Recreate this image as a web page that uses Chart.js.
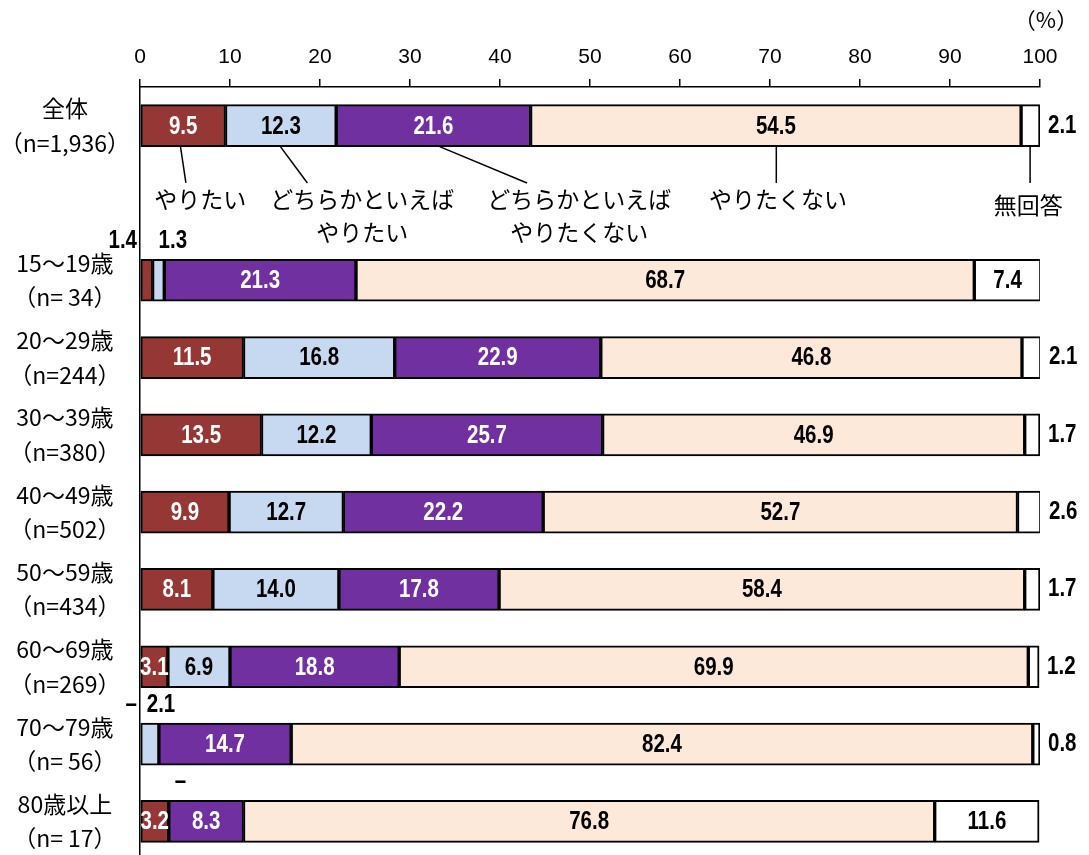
<!DOCTYPE html>
<html>
<head>
<meta charset="utf-8">
<script src="https://cdn.jsdelivr.net/npm/chart.js@4/dist/chart.umd.min.js"></script>
<style>
  html, body { margin: 0; padding: 0; background: #fff; overflow: hidden; }
</style>
</head>
<body>
<canvas id="chart" width="1089" height="860"></canvas>
<script>
// rows (the empty one is the gap used for the callout labels)
const categories = [
  ['全体', '（n=1,936）'],
  '',
  ['15～19歳', '（n= 34）'],
  ['20～29歳', '（n=244）'],
  ['30～39歳', '（n=380）'],
  ['40～49歳', '（n=502）'],
  ['50～59歳', '（n=434）'],
  ['60～69歳', '（n=269）'],
  ['70～79歳', '（n= 56）'],
  ['80歳以上', '（n= 17）']
];
const seriesNames = ['やりたい', 'どちらかといえばやりたい', 'どちらかといえばやりたくない', 'やりたくない', '無回答'];
const wantTo     = [9.5, null, 1.4, 11.5, 13.5, 9.9, 8.1, 3.1, 0, 3.2];
const ratherWant = [12.3, null, 1.3, 16.8, 12.2, 12.7, 14.0, 6.9, 2.1, 0];
const ratherNot  = [21.6, null, 21.3, 22.9, 25.7, 22.2, 17.8, 18.8, 14.7, 8.3];
const dontWant   = [54.5, null, 68.7, 46.8, 46.9, 52.7, 58.4, 69.9, 82.4, 76.8];
const noAnswer   = [2.1, null, 7.4, 2.1, 1.7, 2.6, 1.7, 1.2, 0.8, 11.6];
const xTickStep = 10;

const colors = ['#953735', '#C6D9F1', '#7030A0', '#FDE9D9', '#FFFFFF'];
const labelColors = ['#fff', '#000', '#fff', '#000', '#000'];
const numFont = "bold 25px 'Liberation Sans', sans-serif";
const jpFont = "'Noto Sans CJK JP', 'Noto Sans', sans-serif";

// callouts under the 全体 bar
const callouts = [
  { lines: ['やりたい'], from: 4.5, to: 5.1, text: 6.7 },
  { lines: ['どちらかといえば', 'やりたい'], from: 15.6, to: 18.6, text: 24.7 },
  { lines: ['どちらかといえば', 'やりたくない'], from: 33.3, to: 43.0, text: 48.8 },
  { lines: ['やりたくない'], from: 70.7, to: 70.7, text: 70.9 },
  { lines: ['無回答'], from: 98.9, to: 98.9, text: 98.7, dy: 6 }
];

// narrow-looking numbers: squeeze the text horizontally
function drawNum(ctx, txt, x, y, align) {
  const sx = 0.82;
  ctx.save();
  ctx.translate(x, y);
  ctx.scale(sx, 1);
  ctx.textAlign = align;
  ctx.fillText(txt, 0, 0);
  ctx.restore();
}

const valueLabels = {
  id: 'valueLabels',
  afterDatasetsDraw(chart) {
    const ctx = chart.ctx;
    const xs = chart.scales.x;
    ctx.save();
    ctx.font = numFont;
    ctx.textBaseline = 'middle';
    chart.data.datasets.forEach((ds, i) => {
      const meta = chart.getDatasetMeta(i);
      meta.data.forEach((bar, j) => {
        const v = ds.data[j];
        if (v === null || v === undefined) return;
        const txt = v === 0 ? '–' : v.toFixed(1);
        const left = Math.min(bar.x, bar.base);
        const right = Math.max(bar.x, bar.base);
        const top = bar.y - bar.height / 2;
        if ((i === 0 || i === 1) && v < 2.5) {
          ctx.fillStyle = '#000';
          if (i === 0) {
            drawNum(ctx, txt, xs.left - 3, top - 18, 'right');
          } else {
            drawNum(ctx, txt, left + 6, top - 18, 'left');
          }
        } else if (i === 4 && v < 5) {
          ctx.fillStyle = '#000';
          drawNum(ctx, txt, right + 8, bar.y, 'left');
        } else {
          ctx.fillStyle = labelColors[i];
          drawNum(ctx, txt, (left + right) / 2, bar.y + 1, 'center');
        }
      });
    });

    // callout leaders and names
    const ys = chart.scales.y;
    const firstBar = chart.getDatasetMeta(0).data[0];
    const barBottom = firstBar.y + firstBar.height / 2;
    const gapY = ys.getPixelForValue(1);
    ctx.strokeStyle = '#000';
    ctx.lineWidth = 1.5;
    ctx.fillStyle = '#000';
    ctx.font = '23px ' + jpFont;
    ctx.textAlign = 'center';
    callouts.forEach(c => {
      ctx.beginPath();
      ctx.moveTo(xs.getPixelForValue(c.from), barBottom);
      ctx.lineTo(xs.getPixelForValue(c.to), gapY - 20);
      ctx.stroke();
      c.lines.forEach((line, k) => {
        ctx.fillText(line, xs.getPixelForValue(c.text), gapY - 4 + k * 33 + (c.dy || 0));
      });
    });

    // unit
    ctx.font = '22px ' + jpFont;
    ctx.fillText('（%）', xs.right + 6, 20);
    ctx.restore();
  }
};

new Chart(document.getElementById('chart'), {
  type: 'bar',
  data: {
    labels: categories,
    datasets: [wantTo, ratherWant, ratherNot, dontWant, noAnswer].map((d, i) => ({
      label: seriesNames[i],
      data: d,
      backgroundColor: colors[i],
      borderColor: '#000',
      borderWidth: 2,
      borderSkipped: false,
      barThickness: 42
    }))
  },
  options: {
    indexAxis: 'y',
    responsive: false,
    animation: false,
    layout: { padding: { left: 0, right: 49, top: 0, bottom: 0 } },
    plugins: { legend: { display: false }, tooltip: { enabled: false } },
    scales: {
      x: {
        position: 'top',
        stacked: true,
        min: 0,
        max: 100,
        afterFit: s => { s.height = 87; s.paddingLeft = 0; s.paddingRight = 0; },
        ticks: {
          stepSize: xTickStep,
          padding: 9,
          color: '#000',
          font: { family: "'Liberation Sans', sans-serif", size: 21 }
        },
        grid: { drawOnChartArea: false, drawTicks: true, tickLength: 8, color: '#000', lineWidth: 1.5 },
        border: { display: true, color: '#000', width: 1.5 }
      },
      y: {
        stacked: true,
        afterFit: s => { s.width = 140; s.paddingTop = 0; s.paddingBottom = 0; },
        ticks: {
          autoSkip: false,
          crossAlign: 'center',
          padding: 10,
          color: '#000',
          font: { family: jpFont, size: 23, lineHeight: 1.5 }
        },
        grid: { display: false, drawTicks: false },
        border: { display: true, color: '#000', width: 1.5 }
      }
    }
  },
  plugins: [valueLabels]
});
</script>
</body>
</html>
